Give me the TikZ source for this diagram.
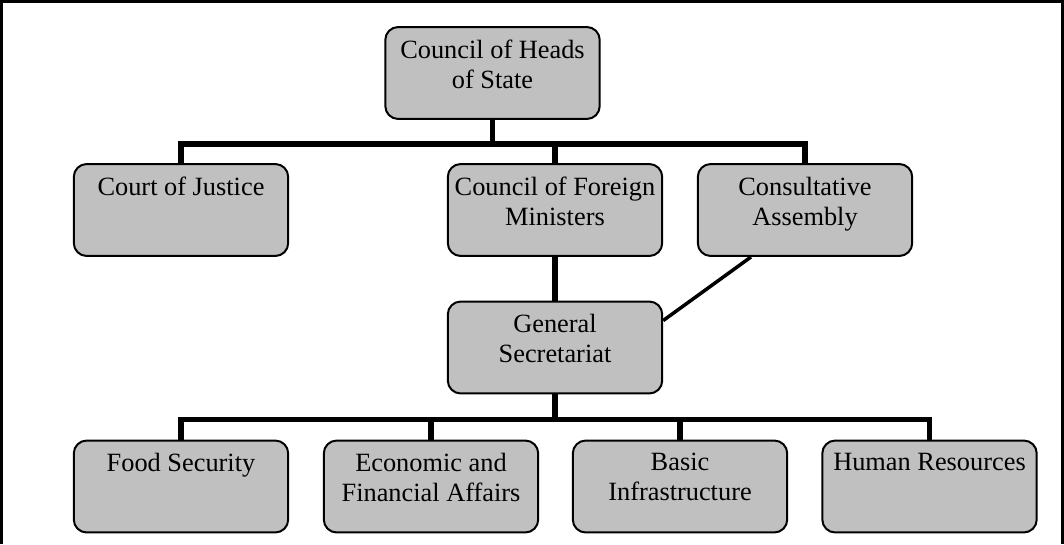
\documentclass[tikz,border=0pt]{standalone}
\usepackage{fontspec}
\setmainfont{Liberation Serif}
\usetikzlibrary{calc}
\usetikzlibrary{positioning}
\definecolor{silver}{RGB}{192, 192, 192}

\tikzset{
    unit/.style={draw=black, line width=0.04cm, fill=silver, rounded corners=0.26cm,
                 minimum width=4.29cm, minimum height=1.84cm, inner sep=0pt},
    caption/.style={anchor=north, yshift=-0.27cm, align=center, inner sep=0pt,
                 font=\fontsize{15pt}{17pt}\selectfont},
    bus/.style={line width=0.11cm, line join=miter},
    link/.style={line width=0.07cm},
}

\begin{document}
\begin{tikzpicture}[x=0.02cm, y=-0.02cm]
    \useasboundingbox (0,0) rectangle (1064,544);
    % frame
    \draw[line width=0.06cm] (1.5,544) -- (1.5,1.5) -- (1062.5,1.5) -- (1062.5,544);

    % boxes
    \node[unit, label={[caption]north:{Council of Heads\\of State}}]       (heads)    at (492.5, 73.0) {};
    \node[unit, label={[caption]north:{Court of Justice}}]                 (court)    at (181.0,210.0) {};
    \node[unit, label={[caption]north:{Council of Foreign\\Ministers}}]    (foreign)  at (555.0,210.0) {};
    \node[unit, label={[caption]north:{Consultative\\Assembly}}]           (assembly) at (805.0,210.0) {};
    \node[unit, label={[caption]north:{General\\Secretariat}}]             (gensec)   at (555.0,347.5) {};
    \node[unit, label={[caption]north:{Food Security}}]                    (food)     at (181.0,486.5) {};
    \node[unit, label={[caption]north:{Economic and\\Financial Affairs}}]  (econ)     at (431.0,486.5) {};
    \node[unit, label={[caption]north:{Basic\\Infrastructure}}]            (basic)    at (680.0,486.5) {};
    \node[unit, label={[caption]north:{Human Resources}}]                  (human)    at (929.5,486.5) {};

    % upper tree
    \coordinate (topjoint) at ($(heads.south)+(0,24)$);
    \draw[bus] (heads.south) -- (topjoint);
    \draw[bus] (court.north) |- (topjoint) -| (assembly.north);
    \draw[bus] (topjoint -| foreign.north) -- (foreign.north);
    \draw[bus] (foreign) -- (gensec);
    \draw[link] (assembly.221) -- (gensec.14);

    % lower tree
    \coordinate (lowjoint) at ($(gensec.south)+(0,25)$);
    \draw[bus] (gensec.south) -- (lowjoint);
    \draw[bus] (food.north) |- (lowjoint) -| (human.north);
    \draw[bus] (lowjoint -| econ.north) -- (econ.north);
    \draw[bus] (lowjoint -| basic.north) -- (basic.north);
\end{tikzpicture}
\end{document}
